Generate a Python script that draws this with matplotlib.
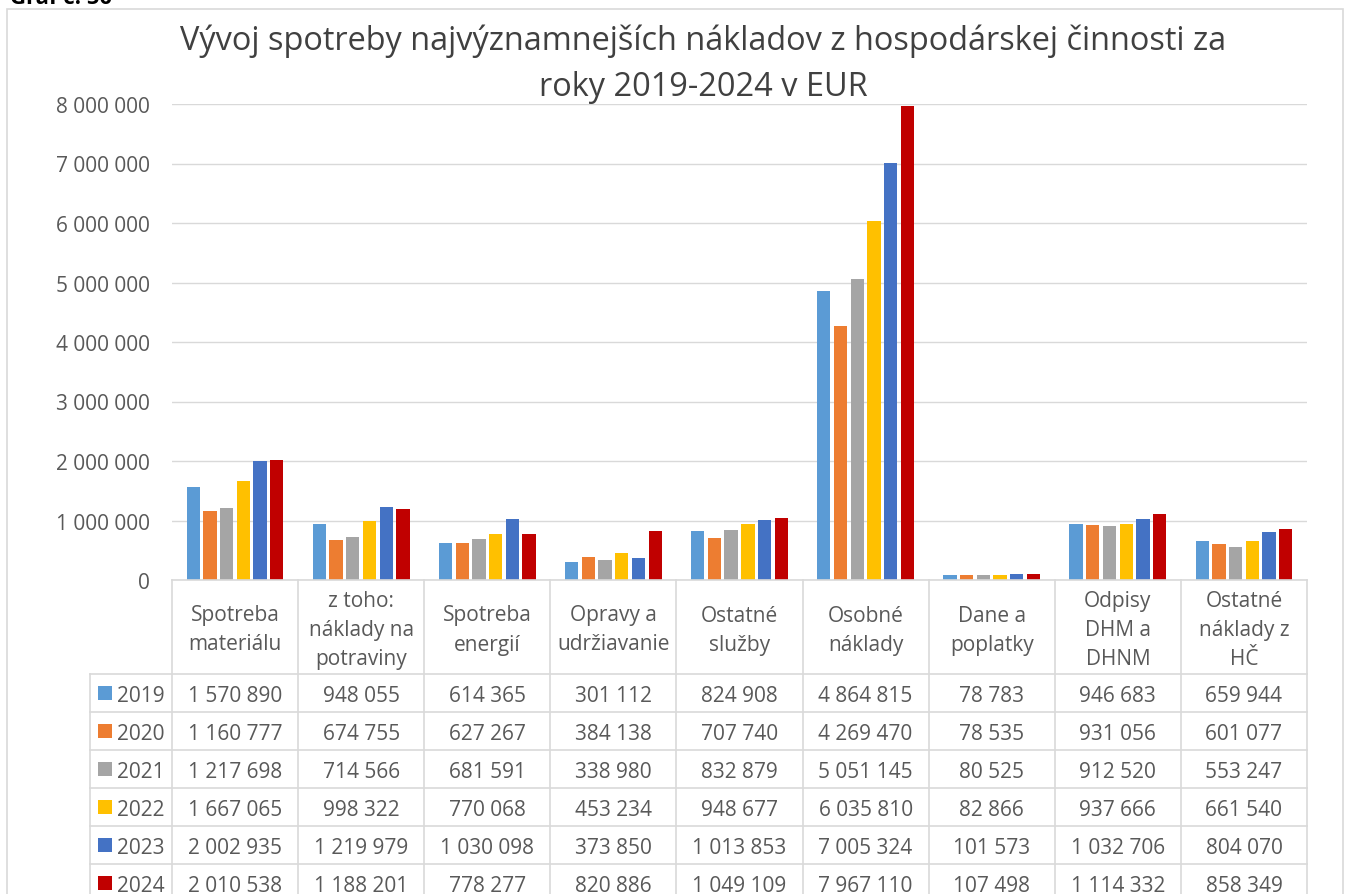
import numpy as np
import matplotlib.pyplot as plt
from matplotlib.lines import Line2D
from matplotlib.patches import Rectangle
from matplotlib.ticker import FuncFormatter
from matplotlib.transforms import blended_transform_factory

plt.rcParams['font.family'] = ['Open Sans', 'DejaVu Sans']

'''Data'''
categories = ['Spotreba\nmateriálu', 'z toho:\nnáklady na\npotraviny', 'Spotreba\nenergií',
              'Opravy a\nudržiavanie', 'Ostatné\nslužby', 'Osobné\nnáklady',
              'Dane a\npoplatky', 'Odpisy\nDHM a\nDHNM', 'Ostatné\nnáklady z\nHČ']
years = ['2019', '2020', '2021', '2022', '2023', '2024']
colors = ['#5B9BD5', '#ED7D31', '#A5A5A5', '#FFC000', '#4472C4', '#C00000']

v2019 = [1570890, 948055, 614365, 301112, 824908, 4864815, 78783, 946683, 659944]
v2020 = [1160777, 674755, 627267, 384138, 707740, 4269470, 78535, 931056, 601077]
v2021 = [1217698, 714566, 681591, 338980, 832879, 5051145, 80525, 912520, 553247]
v2022 = [1667065, 998322, 770068, 453234, 948677, 6035810, 82866, 937666, 661540]
v2023 = [2002935, 1219979, 1030098, 373850, 1013853, 7005324, 101573, 1032706, 804070]
v2024 = [2010538, 1188201, 778277, 820886, 1049109, 7967110, 107498, 1114332, 858349]
series = [v2019, v2020, v2021, v2022, v2023, v2024]

W, H = 1349, 895
TXT = '#595959'
GRID = '#d9d9d9'


def fy(py):
    # pixel row -> figure fraction
    return 1 - py / H


def fmt(v):
    return f'{int(round(v)):,}'.replace(',', ' ')


fig = plt.figure(figsize=(W / 100, H / 100), dpi=100)
ax = fig.add_axes([172 / W, fy(581), 1135 / W, 476 / H])

x = np.arange(len(categories))
slot = 0.1325
for k, vals in enumerate(series):
    ax.bar(x + (k - 2.5) * slot, vals, width=0.1055, color=colors[k], zorder=3)

ax.set_xlim(-0.5, len(categories) - 0.5)
ax.set_ylim(0, 8000000)
ax.set_yticks(np.arange(0, 8000001, 1000000))
ax.yaxis.set_major_formatter(FuncFormatter(lambda v, p: fmt(v)))
ax.tick_params(axis='y', length=0, pad=16, labelsize=15, labelcolor=TXT)
ax.set_xticks([])
ax.grid(axis='y', color=GRID, lw=1.0, zorder=0)
for s in ax.spines.values():
    s.set_visible(False)

# outer chart border
fig.add_artist(Rectangle((7 / W, fy(1000)), (1343 - 7) / W, (1000 - 10) / H,
                         transform=fig.transFigure, fill=False, ec=GRID, lw=1.2))

fig.text(10 / W, fy(4), 'Graf č. 50', fontsize=16, fontweight='bold', color='black',
         ha='left', va='baseline')

# title
fig.text(703 / W, fy(50), 'Vývoj spotreby najvýznamnejších nákladov z hospodárskej činnosti za',
         fontsize=23.4, color='#404040', ha='center', va='baseline')
fig.text(703 / W, fy(96), 'roky 2019-2024 v EUR',
         fontsize=23.4, color='#404040', ha='center', va='baseline')

# data table under the axis
tr = blended_transform_factory(ax.transData, fig.transFigure)
row_top = 675
row_h = 38

def hline(x0, x1, py):
    fig.add_artist(Line2D([x0 / W, x1 / W], [fy(py), fy(py)], transform=fig.transFigure,
                          color=GRID, lw=1.2))

hline(172, 1307, 581)
for r in range(len(years)):
    hline(90, 1307, row_top + r * row_h)
fig.add_artist(Line2D([90 / W, 90 / W], [fy(row_top), fy(910)], transform=fig.transFigure,
                      color=GRID, lw=1.2))
for k in range(len(categories) + 1):
    fig.add_artist(Line2D([k - 0.5, k - 0.5], [fy(581), fy(910)], transform=tr,
                          color=GRID, lw=1.2))

for i, lab in enumerate(categories):
    lines = lab.split('\n')
    n = len(lines)
    for j, ln in enumerate(lines):
        by = 636 + (j - (n - 1) / 2) * 29
        fig.text(i, fy(by), ln, transform=tr, ha='center', va='baseline',
                 fontsize=15, color=TXT)

for r, (yr, vals) in enumerate(zip(years, series)):
    top = row_top + r * row_h
    fig.add_artist(Rectangle((98 / W, fy(top + 26)), 14 / W, 14 / H,
                             transform=fig.transFigure, color=colors[r], lw=0))
    fig.text(117 / W, fy(top + 27), yr, ha='left', va='baseline', fontsize=15, color=TXT)
    for i, v in enumerate(vals):
        fig.text(i, fy(top + 27), fmt(v), transform=tr, ha='center', va='baseline',
                 fontsize=15, color=TXT)

fig.savefig('out.png', dpi=100)
